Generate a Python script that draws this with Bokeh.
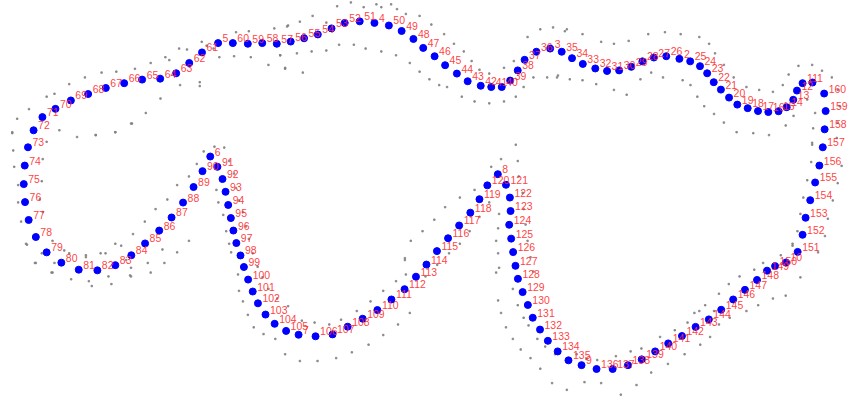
from bokeh.plotting import figure
from bokeh.models import Range1d, ColumnDataSource
from bokeh.core.properties import value
from bokeh.embed import file_html
from bokeh.resources import INLINE

# point labels 1..160 and their positions (reference pixel units, y downward)
pt_label = [str(i) for i in range(1, 161)]
pt_x = [827.3, 691.7, 560.0, 381.0, 221.7, 213.7, 303.7, 506.7, 592.0, 800.3,
        817.2, 811.5, 807.7, 801.0, 792.7, 782.3, 771.8, 761.3, 750.7, 742.3,
        734.0, 726.7, 720.0, 712.7, 702.7, 678.3, 665.7, 654.0, 642.7, 630.3,
        618.0, 606.0, 593.3, 582.3, 571.8, 546.0, 534.0, 527.0, 519.3, 510.7,
        500.0, 489.3, 476.0, 465.0, 453.0, 442.3, 430.7, 420.7, 408.7, 395.7,
        366.0, 350.7, 337.3, 323.3, 309.3, 295.7, 281.5, 266.7, 252.0, 236.7,
        205.3, 192.3, 179.0, 162.7, 144.3, 126.0, 107.3, 89.3, 71.7, 56.0,
        42.7, 33.7, 28.0, 24.7, 23.7, 25.0, 28.7, 36.0, 47.0, 62.0,
        79.7, 98.7, 117.0, 133.3, 147.3, 161.7, 174.3, 186.0, 196.7, 205.8,
        221.0, 226.2, 229.3, 232.0, 234.7, 237.3, 240.3, 244.5, 248.0, 252.3,
        257.0, 262.3, 270.0, 279.3, 291.0, 321.0, 338.3, 353.7, 369.0, 384.0,
        398.3, 411.7, 423.3, 434.0, 444.7, 456.0, 467.3, 478.7, 488.0, 496.0,
        515.0, 519.0, 519.7, 518.3, 520.3, 522.3, 524.7, 527.2, 532.0, 537.3,
        542.3, 549.7, 557.7, 567.7, 578.7, 607.3, 623.7, 639.3, 653.3, 667.0,
        680.3, 694.3, 708.2, 721.7, 734.3, 746.5, 758.5, 770.8, 781.0, 789.2,
        812.2, 817.2, 820.3, 825.0, 830.0, 834.3, 837.8, 839.7, 840.7, 839.2]
pt_y = [85.3, 60.7, 50.0, 23.3, 44.3, 162.3, 347.7, 180.7, 379.3, 272.5,
        86.0, 93.7, 103.3, 111.0, 115.2, 116.0, 115.0, 112.0, 108.3, 101.0,
        92.7, 85.0, 75.7, 68.3, 63.3, 58.0, 59.3, 63.3, 69.0, 72.7,
        73.3, 70.7, 66.0, 60.0, 53.3, 53.3, 61.7, 72.7, 83.3, 90.0,
        90.0, 88.7, 84.0, 76.0, 67.3, 58.0, 49.3, 40.0, 31.7, 26.0,
        21.7, 23.3, 29.0, 35.3, 39.3, 42.7, 45.0, 44.3, 45.0, 44.3,
        54.0, 65.0, 75.7, 81.3, 82.3, 86.0, 91.0, 97.3, 104.0, 112.7,
        121.3, 135.0, 152.7, 171.7, 191.0, 209.7, 228.3, 246.0, 262.0, 272.7,
        280.0, 280.7, 275.3, 265.0, 252.7, 239.3, 225.7, 210.2, 194.0, 177.5,
        173.0, 185.7, 199.0, 212.7, 226.3, 239.3, 252.3, 265.2, 277.2, 290.3,
        302.7, 315.0, 326.7, 336.3, 343.7, 349.3, 347.3, 339.3, 331.0, 322.0,
        311.0, 300.3, 287.3, 274.7, 260.7, 247.3, 234.0, 220.7, 206.7, 192.3,
        191.7, 205.0, 219.0, 233.3, 247.7, 261.7, 276.0, 289.5, 303.3, 316.7,
        330.0, 342.3, 354.0, 365.0, 374.3, 383.3, 383.3, 379.3, 373.3, 365.0,
        356.7, 349.0, 339.5, 331.7, 321.7, 311.0, 301.0, 290.7, 281.0, 276.3,
        261.5, 243.7, 226.0, 207.7, 189.3, 171.7, 152.7, 134.0, 115.0, 96.8]

# faint scattered sample points around the loop
gray_x = [293, 279, 253, 240, 205, 182, 190, 168, 172, 153, 137, 118, 103, 86, 70, 55, 47, 29, 17, 12,
          285, 273, 290, 255, 238, 223, 203, 203, 183, 163, 148, 134, 117, 97, 217, 210,
          343, 357, 370, 383, 388, 398, 404, 413, 427, 439, 452, 462, 472, 480, 488, 498, 513, 523,
          537, 550, 563, 577, 332, 318, 305, 292, 285, 302, 317, 332, 345, 360, 372, 388, 403, 417,
          427, 437, 447, 455, 470, 483, 498, 513, 525, 533, 543, 557, 568, 290, 308,
          575, 593, 612, 625, 640, 660, 677, 693, 712, 722, 728, 737, 747, 760, 773, 787, 797, 803,
          813, 827, 837, 847, 853, 855, 853, 852, 822, 830, 828, 827, 567, 580, 593, 607, 625, 638,
          652, 663, 675, 695, 703, 710, 717, 727, 737, 750, 767, 783, 800, 808,
          12, 13, 14, 18, 18, 21, 26, 35, 52, 60, 78, 97, 117, 133, 47, 43, 42, 40, 43, 53, 70, 87,
          107, 123, 135, 147, 158, 170, 180, 192, 200, 207, 218, 228, 233, 238, 240, 243, 247, 250,
          253, 220, 222, 227, 230, 233, 192, 180, 167, 153, 133,
          235, 242, 243, 247, 252, 258, 268, 280, 290, 305, 323, 342, 358, 375, 390, 405, 417, 257,
          262, 267, 273, 282, 293, 307, 320, 335, 347, 363, 377, 390, 403, 413, 412,
          525, 510, 500, 483, 468, 453, 442, 430, 418, 412, 527, 528, 532, 533, 535, 537, 540, 543,
          508, 507, 505, 507, 508, 498, 488, 478, 468, 457, 445, 433,
          505, 507, 510, 515, 522, 530, 540, 550, 562, 577, 595, 612, 632, 648, 663, 680, 697, 713,
          723, 522, 527, 533, 538, 547, 555, 565, 587, 597, 608, 627, 642, 653, 672, 687, 700, 712, 727,
          807, 815, 800, 787, 772, 760, 743, 732, 795, 777, 768, 753, 742, 732, 718, 707,
          857, 853, 848, 843, 840, 833, 827, 826, 822, 818, 815, 812, 807,
          27, 42, 36, 53, 55, 65, 72, 90, 93, 113, 110, 132, 150, 165, 117, 102, 87, 133, 128]
gray_y = [26, 29, 32, 33, 43, 50, 51, 59, 62, 65, 71, 74, 75, 80, 87, 97, 100, 113, 123, 137,
          57, 67, 71, 59, 58, 59, 85, 89, 88, 102, 117, 128, 137, 140, 50, 47,
          6, 2, 7, 4, 7, 4, 9, 14, 16, 25, 35, 45, 53, 63, 72, 76, 70, 63,
          38, 30, 28, 30, 23, 16, 22, 27, 57, 55, 53, 52, 46, 46, 50, 53, 57, 65,
          74, 82, 88, 90, 100, 105, 107, 105, 100, 90, 80, 80, 78, 70, 75,
          32, 35, 43, 45, 42, 35, 33, 35, 38, 45, 55, 67, 80, 90, 93, 95, 88, 77,
          68, 67, 73, 80, 93, 110, 127, 143, 103, 117, 133, 148, 80, 82, 83, 87, 93, 98,
          82, 75, 80, 83, 88, 100, 110, 118, 127, 137, 138, 140, 130, 120,
          138, 156, 173, 192, 210, 230, 253, 273, 283, 135, 142, 140, 137, 128, 147, 165, 188, 207, 220, 250, 263, 267,
          263, 255, 243, 230, 217, 207, 192, 183, 170, 157, 152, 153, 167, 180, 195, 208, 220, 235,
          248, 197, 210, 223, 240, 253, 250, 262, 273, 283, 287,
          262, 285, 302, 313, 327, 340, 347, 352, 368, 375, 375, 372, 366, 358, 348, 337, 325, 263,
          277, 288, 300, 310, 318, 333, 335, 337, 332, 323, 313, 302, 292, 285, 270,
          150, 165, 173, 197, 205, 215, 228, 240, 250, 268, 167, 183, 200, 217, 233, 250, 267, 282,
          222, 237, 250, 263, 278, 210, 225, 240, 253, 263, 275, 287,
          283, 312, 325, 340, 352, 363, 372, 383, 398, 405, 397, 398, 410, 400, 387, 378, 368, 358,
          350, 300, 317, 330, 338, 352, 360, 368, 368, 373, 374, 370, 365, 362, 350, 343, 335, 323, 323,
          253, 288, 307, 310, 317, 323, 330, 337, 265, 273, 280, 287, 295, 305, 317, 325,
          172, 190, 208, 227, 245, 262, 150, 168, 187, 205, 222, 240, 255,
          254, 263, 273, 283, 273, 260, 290, 292, 297, 295, 287, 286, 273, 259, 253, 263, 265, 278, 270]

p = figure(width=848, height=398, output_backend="svg", toolbar_location=None,
           x_range=Range1d(0, 864), y_range=Range1d(414, 0), min_border=0)
p.axis.visible = False
p.xgrid.visible = False
p.ygrid.visible = False
p.outline_line_color = None
p.background_fill_color = "white"

p.scatter(gray_x, gray_y, marker="square", size=1.5, color="#808080", alpha=0.8)

src = ColumnDataSource(dict(x=pt_x, y=pt_y, t=pt_label))
p.scatter("x", "y", source=src, size=7, color="#0000ff")
p.text("x", "y", text="t", source=src, x_offset=4.5, y_offset=-5,
       text_font=value("Liberation Sans"), text_font_size="10.5px",
       text_color="#ff2a2a", text_alpha=0.9, text_baseline="middle", text_align="left")

open("out.html", "w").write(file_html(p, INLINE))
